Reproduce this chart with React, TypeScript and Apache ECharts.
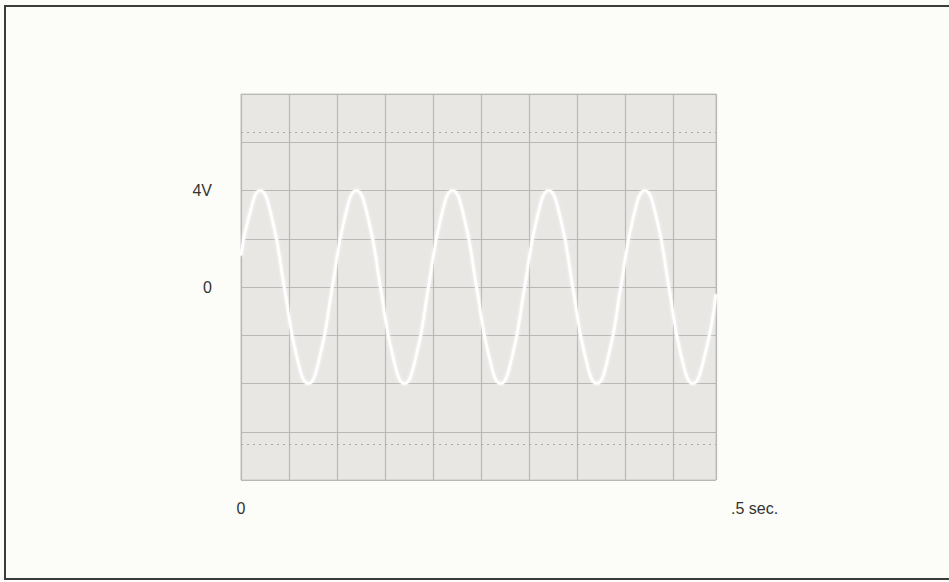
import React, { useEffect, useRef } from "react";
import * as echarts from "echarts";

// Trace samples: time (s) and voltage (V) read along the sweep
const times = [
  0, 0.0075, 0.02, 0.0325, 0.045, 0.0575, 0.07, 0.0825, 0.095, 0.1075,
  0.12, 0.1325, 0.145, 0.1575, 0.17, 0.1825, 0.195, 0.2075, 0.22, 0.2325,
  0.245, 0.2575, 0.27, 0.2825, 0.295, 0.3075, 0.32, 0.3325, 0.345, 0.3575,
  0.37, 0.3825, 0.395, 0.4075, 0.42, 0.4325, 0.445, 0.4575, 0.47, 0.4825,
  0.494,
];
const volts = [
  1.3, 2.8, 4, 2.8, 0, -2.8, -4, -2.8, 0, 2.8,
  4, 2.8, 0, -2.8, -4, -2.8, 0, 2.8, 4, 2.8,
  0, -2.8, -4, -2.8, 0, 2.8, 4, 2.8, 0, -2.8,
  -4, -2.8, 0, 2.8, 4, 2.8, 0, -2.8, -4, -2.8,
  -0.3,
];

// Graticule: 0.05 s per horizontal division, 2 V per vertical division
const xDivision = 0.05;
const sweepEnd = 0.494;
const yDivision = 2;
const yRange = [-8, 8];
const yLabels: Record<number, string> = { 4: "4V", 0: "0" };
const xLabels: Record<number, string> = { 0: "0" };
const sweepLabel = ".5 sec.";
const dottedLevels = [6.4, -6.5];

const FONT = "'Liberation Sans', Arial, Helvetica, sans-serif";
const LABEL_SIZE = 16;

export default function App() {
  const ref = useRef<HTMLDivElement>(null);

  useEffect(() => {
    if (!ref.current) return;
    const chart = echarts.init(ref.current, undefined, { renderer: "svg" });
    const trace = times.map((t, i) => [t, volts[i]]);

    chart.setOption({
      animation: false,
      backgroundColor: "#fcfcf8",
      grid: {
        left: 241,
        top: 94,
        width: 475,
        height: 386,
        show: true,
        backgroundColor: "#e8e7e4",
        borderColor: "#c4c4c2",
        borderWidth: 1,
      },
      xAxis: {
        type: "value",
        min: 0,
        max: sweepEnd,
        interval: xDivision,
        axisLine: { show: false },
        axisTick: { show: false },
        splitLine: { show: true, lineStyle: { color: "#b8b8b6", width: 1.2 } },
        axisLabel: {
          margin: 20,
          color: "#333",
          fontSize: LABEL_SIZE,
          fontFamily: FONT,
          showMaxLabel: false,
          formatter: (v: number) => xLabels[v] ?? "",
        },
      },
      yAxis: {
        type: "value",
        min: yRange[0],
        max: yRange[1],
        interval: yDivision,
        axisLine: { show: false },
        axisTick: { show: false },
        splitLine: { show: true, lineStyle: { color: "#b8b8b6", width: 1.2 } },
        axisLabel: {
          margin: 29,
          color: "#333",
          fontSize: LABEL_SIZE,
          fontFamily: FONT,
          formatter: (v: number) => yLabels[v] ?? "",
        },
      },
      graphic: [
        {
          type: "rect",
          shape: { x: 5, y: 6, width: 960, height: 573 },
          style: { fill: "none", stroke: "#3c3c3c", lineWidth: 2 },
          silent: true,
        },
        {
          type: "text",
          x: 731,
          y: 508,
          style: {
            text: sweepLabel,
            fill: "#333",
            fontSize: LABEL_SIZE,
            fontFamily: FONT,
            verticalAlign: "middle",
          },
          silent: true,
        },
      ],
      series: [
        {
          type: "line",
          data: trace,
          smooth: 0.5,
          showSymbol: false,
          lineStyle: {
            color: "#ffffff",
            width: 2.6,
            shadowBlur: 3,
            shadowColor: "rgba(255,255,255,0.9)",
          },
          markLine: {
            silent: true,
            symbol: "none",
            label: { show: false },
            lineStyle: { color: "#a8a8a6", type: [2, 4], width: 1.2 },
            data: dottedLevels.map((y) => ({ yAxis: y })),
          },
          z: 5,
        },
      ],
    });

    return () => chart.dispose();
  }, []);

  return (
    <div
      ref={ref}
      style={{ position: "fixed", left: 0, top: 0, width: 949, height: 582 }}
    />
  );
}
